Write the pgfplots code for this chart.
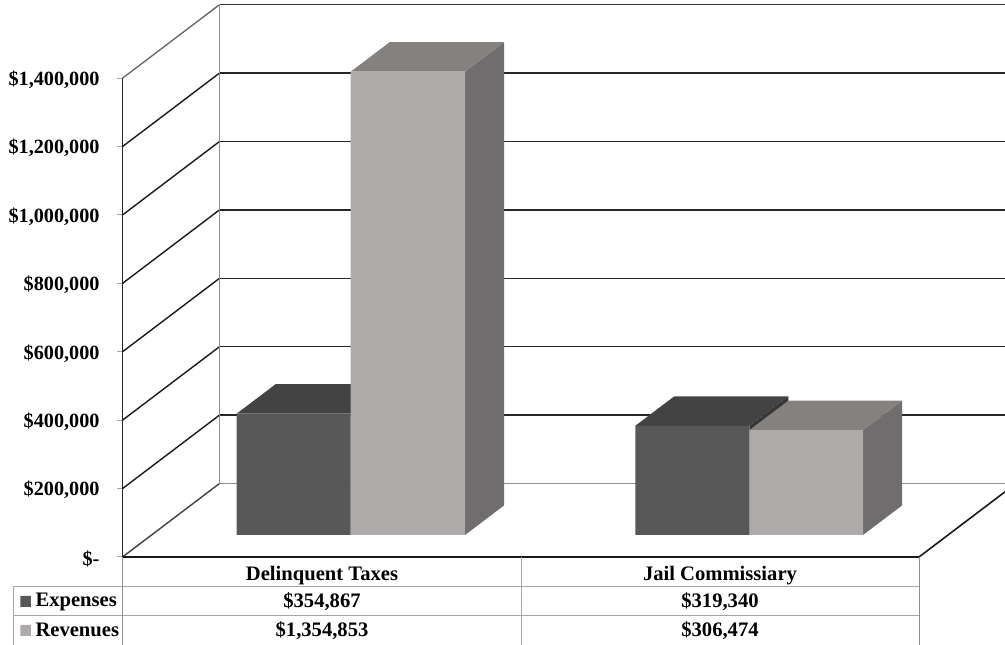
\documentclass[border=0pt]{standalone}
\usepackage{fontspec}
\setmainfont{Liberation Serif}
\usepackage{pgfplots}
\pgfplotsset{compat=1.18}

\definecolor{expFront}{HTML}{585858}
\definecolor{expTop}{HTML}{434343}
\definecolor{expSide}{HTML}{363636}
\definecolor{revFront}{HTML}{ADAAA9}
\definecolor{revTop}{HTML}{85817F}
\definecolor{revSide}{HTML}{6F6D6D}
\definecolor{tableLine}{HTML}{A6A6A6}
\definecolor{wallGrey}{HTML}{8E8E8E}

% Depth offsets in axis units: x in the axis' own scale, y in thousands of dollars
\newcommand{\barbase}{64.327}
\newcommand{\depthx}{39}
\newcommand{\depthy}{86.257}

% One bar: left x, right x, value, front, top and side colours
\newcommand{\drawbar}[6]{%
  \pgfmathsetmacro{\lo}{\barbase}%
  \pgfmathsetmacro{\hi}{#3+\barbase}%
  \pgfmathsetmacro{\hiB}{#3+\barbase+\depthy}%
  \pgfmathsetmacro{\loB}{\barbase+\depthy}%
  \pgfmathsetmacro{\lB}{#1+\depthx}%
  \pgfmathsetmacro{\rB}{#2+\depthx}%
  \addplot[fill=#6,draw=none] coordinates {(#2,\lo)(\rB,\loB)(\rB,\hiB)(#2,\hi)(#2,\lo)};
  \addplot[fill=#5,draw=none] coordinates {(#1,\hi)(\lB,\hiB)(\rB,\hiB)(#2,\hi)(#1,\hi)};
  \addplot[fill=#4,draw=none] coordinates {(#1,\lo)(#1,\hi)(#2,\hi)(#2,\lo)(#1,\lo)};
}

\begin{document}
\begin{tikzpicture}
\begin{axis}[
  scale only axis,
  width=796.5pt, height=478.8pt,
  xmin=122.5, xmax=919,
  ymin=0, ymax=1400,
  clip=false,
  hide x axis,
  axis y line*=left,
  axis line style={-,black!85,line width=1.6pt},
  xtick=\empty,
  ytick={0,200,400,600,800,1000,1200,1400},
  yticklabels={\$-,{\$200,000},{\$400,000},{\$600,000},{\$800,000},{\$1,000,000},{\$1,200,000},{\$1,400,000}},
  scaled y ticks=false,
  tick style={tableLine,line width=1pt},
  major tick length=6pt,
  tick align=outside,
  yticklabel style={font=\fontsize{20.2}{23}\selectfont\bfseries,anchor=east,xshift=-13.5pt,yshift=-1.5pt},
]

% Side wall
\addplot[wallGrey!70!black,line width=1.3pt] coordinates {(122.5,1400)(219.5,1614.912)};
\addplot[black!90,line width=1.4pt] coordinates {(122.5,1200)(219.5,1414.912)};
\addplot[black!90,line width=1.4pt] coordinates {(122.5,1000)(219.5,1214.912)};
\addplot[black!90,line width=1.4pt] coordinates {(122.5,800)(219.5,1014.912)};
\addplot[black!90,line width=1.4pt] coordinates {(122.5,600)(219.5,814.912)};
\addplot[black!90,line width=1.4pt] coordinates {(122.5,400)(219.5,614.912)};
\addplot[black!90,line width=1.4pt] coordinates {(122.5,200)(219.5,414.912)};
\addplot[black!75,line width=1.4pt] coordinates {(122.5,0)(219.5,214.912)};

% Back wall
\addplot[black!80,line width=1.5pt] coordinates {(219.5,1614.912)(1005,1614.912)};
\addplot[black!85,line width=1.5pt] coordinates {(219.5,1414.912)(1005,1414.912)};
\addplot[black!85,line width=1.5pt] coordinates {(219.5,1214.912)(1005,1214.912)};
\addplot[black!85,line width=1.5pt] coordinates {(219.5,1014.912)(1005,1014.912)};
\addplot[black!85,line width=1.5pt] coordinates {(219.5,814.912)(1005,814.912)};
\addplot[black!85,line width=1.5pt] coordinates {(219.5,614.912)(1005,614.912)};
\addplot[black!85,line width=1.5pt] coordinates {(219.5,414.912)(1005,414.912)};
\addplot[wallGrey,line width=1.6pt] coordinates {(219.5,214.912)(1005,214.912)};
\addplot[wallGrey,line width=1.6pt] coordinates {(219.5,214.912)(219.5,1614.912)};

% Floor
\addplot[black!90,line width=1.6pt] coordinates {(122.5,0)(919,0)(1005,190.6)};

% Data table rules
\addplot[tableLine,line width=1pt] coordinates {(14,-86.257)(919,-86.257)};
\addplot[tableLine,line width=1pt] coordinates {(14,-172.515)(919,-172.515)};
\addplot[tableLine,line width=1pt] coordinates {(14,-86.257)(14,-257.31)};
\addplot[wallGrey,line width=0.9pt] coordinates {(122.5,0)(122.5,-257.31)};
\addplot[tableLine,line width=1pt] coordinates {(521,0)(521,-257.31)};
\addplot[wallGrey,line width=0.9pt] coordinates {(919,0)(919,-257.31)};

% Bars
\drawbar{236.7}{350.7}{354.867}{expFront}{expTop}{expSide}
\drawbar{350.7}{465}{1354.853}{revFront}{revTop}{revSide}
\drawbar{635.3}{749.3}{319.340}{expFront}{expTop}{expSide}
\drawbar{749.3}{863}{306.474}{revFront}{revTop}{revSide}

% Legend keys
\addplot[fill=expFront,draw=none] coordinates {(20.5,-114.035)(31,-114.035)(31,-146.199)(20.5,-146.199)(20.5,-114.035)};
\addplot[fill=revFront,draw=none] coordinates {(20.5,-198.83)(31,-198.83)(31,-230.994)(20.5,-230.994)(20.5,-198.83)};

\begin{scope}[every node/.style={font=\fontsize{20.6}{23}\selectfont\bfseries}]
\node[anchor=west] at (axis cs:32,-130) {Expenses};
\node[anchor=west] at (axis cs:32,-214) {Revenues};
\node at (axis cs:322,-54) {Delinquent Taxes};
\node at (axis cs:720,-54) {Jail Commissiary};
\node at (axis cs:322,-130) {\$354,867};
\node at (axis cs:720,-130) {\$319,340};
\node at (axis cs:322,-214) {\$1,354,853};
\node at (axis cs:720,-214) {\$306,474};
\end{scope}

\coordinate (pageLL) at (axis cs:0,-257.31);
\coordinate (pageUR) at (axis cs:1005,1628.655);
\end{axis}
\pgfresetboundingbox
\path[use as bounding box] (pageLL) rectangle (pageUR);
\end{tikzpicture}
\end{document}
